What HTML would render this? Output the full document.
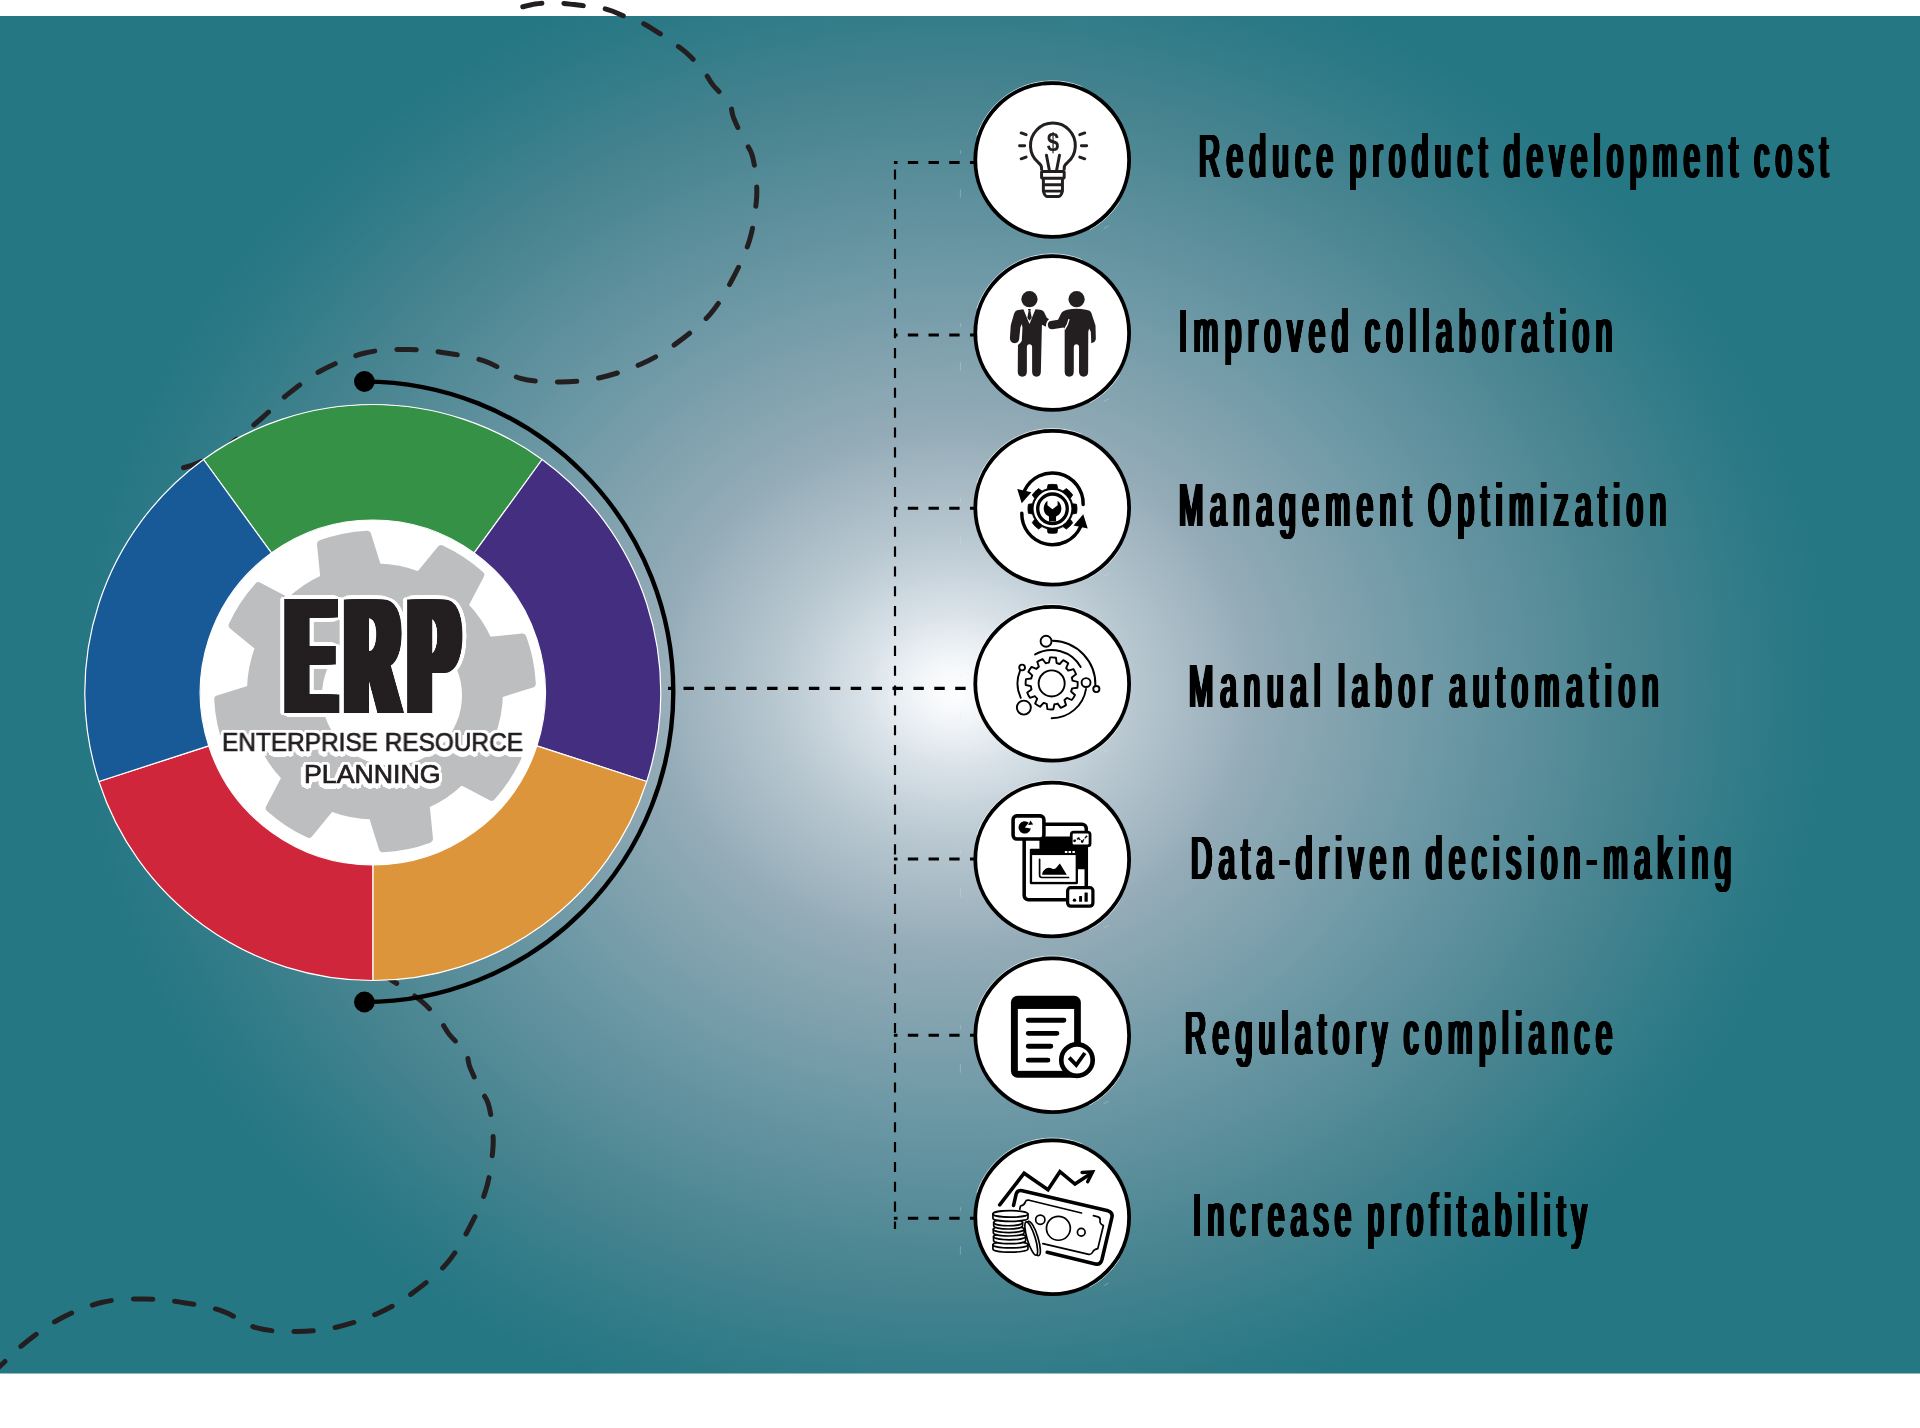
<!DOCTYPE html>
<html lang="en"><head><meta charset="utf-8"><title>ERP - Enterprise Resource Planning</title>
<style>
html,body{margin:0;padding:0;background:#fff}
#stage{position:relative;width:1920px;height:1428px;overflow:hidden;background:#fff}
#stage svg{position:absolute;left:0;top:0;will-change:transform}

.t{position:absolute;will-change:transform;white-space:nowrap;transform-origin:0 0;line-height:1;margin:0;color:#000;font-family:"Liberation Sans",sans-serif;font-weight:bold}
.lb{font-size:62px;font-weight:normal;text-shadow:0.90px 0 0 #000,-0.90px 0 0 #000,1.81px 0 0 #000,-1.81px 0 0 #000,2.71px 0 0 #000,-2.71px 0 0 #000,3.62px 0 0 #000,-3.62px 0 0 #000}
#erp{color:#231f20;text-shadow:5.93px 0 0 #231f20,-5.93px 0 0 #231f20,11.69px 0 0 #231f20,-11.69px 0 0 #231f20,17.44px 0 0 #231f20,-17.44px 0 0 #231f20,26.74px 0.00px 0 #fff,26.07px 0.89px 0 #fff,24.10px 1.74px 0 #fff,20.91px 2.49px 0 #fff,16.67px 3.13px 0 #fff,11.60px 3.60px 0 #fff,5.95px 3.90px 0 #fff,0.00px 4.00px 0 #fff,-5.95px 3.90px 0 #fff,-11.60px 3.60px 0 #fff,-16.67px 3.13px 0 #fff,-20.91px 2.49px 0 #fff,-24.10px 1.74px 0 #fff,-26.07px 0.89px 0 #fff,-26.74px 0.00px 0 #fff,-26.07px -0.89px 0 #fff,-24.10px -1.74px 0 #fff,-20.91px -2.49px 0 #fff,-16.67px -3.13px 0 #fff,-11.60px -3.60px 0 #fff,-5.95px -3.90px 0 #fff,-0.00px -4.00px 0 #fff,5.95px -3.90px 0 #fff,11.60px -3.60px 0 #fff,16.67px -3.13px 0 #fff,20.91px -2.49px 0 #fff,24.10px -1.74px 0 #fff,26.07px -0.89px 0 #fff,13.37px 0.00px 0 #fff,11.58px 2.00px 0 #fff,6.69px 3.46px 0 #fff,0.00px 4.00px 0 #fff,-6.69px 3.46px 0 #fff,-11.58px 2.00px 0 #fff,-13.37px 0.00px 0 #fff,-11.58px -2.00px 0 #fff,-6.69px -3.46px 0 #fff,-0.00px -4.00px 0 #fff,6.69px -3.46px 0 #fff,11.58px -2.00px 0 #fff,26.74px 0.00px 0 #fff,23.16px 1.00px 0 #fff,13.37px 1.73px 0 #fff,0.00px 2.00px 0 #fff,-13.37px 1.73px 0 #fff,-23.16px 1.00px 0 #fff,-26.74px 0.00px 0 #fff,-23.16px -1.00px 0 #fff,-13.37px -1.73px 0 #fff,-0.00px -2.00px 0 #fff,13.37px -1.73px 0 #fff,23.16px -1.00px 0 #fff}
.sub{color:#231f20;font-weight:normal;-webkit-text-stroke:0.7px #231f20;text-shadow:3.20px 0.00px 0 #fff,3.04px 0.99px 0 #fff,2.59px 1.88px 0 #fff,1.88px 2.59px 0 #fff,0.99px 3.04px 0 #fff,0.00px 3.20px 0 #fff,-0.99px 3.04px 0 #fff,-1.88px 2.59px 0 #fff,-2.59px 1.88px 0 #fff,-3.04px 0.99px 0 #fff,-3.20px 0.00px 0 #fff,-3.04px -0.99px 0 #fff,-2.59px -1.88px 0 #fff,-1.88px -2.59px 0 #fff,-0.99px -3.04px 0 #fff,-0.00px -3.20px 0 #fff,0.99px -3.04px 0 #fff,1.88px -2.59px 0 #fff,2.59px -1.88px 0 #fff,3.04px -0.99px 0 #fff,1.60px 0.00px 0 #fff,1.29px 0.94px 0 #fff,0.49px 1.52px 0 #fff,-0.49px 1.52px 0 #fff,-1.29px 0.94px 0 #fff,-1.60px 0.00px 0 #fff,-1.29px -0.94px 0 #fff,-0.49px -1.52px 0 #fff,0.49px -1.52px 0 #fff,1.29px -0.94px 0 #fff,-2px 5px 0 #fff,-4px 4px 0 #fff,0px 5.5px 0 #fff,-5px 2px 0 #fff,2px 5px 0 #fff}

</style></head>
<body><div id="stage">
<svg width="1920" height="1428" viewBox="0 0 1920 1428">
<defs><radialGradient id="bgg" gradientUnits="userSpaceOnUse" cx="955" cy="690" r="870" gradientTransform="translate(955 690) scale(1 0.865) translate(-955 -690)"><stop offset="0" stop-color="#ffffff"/><stop offset="0.04" stop-color="#f3f6f9"/><stop offset="0.11" stop-color="#d7e0e7"/><stop offset="0.2" stop-color="#b9c8d1"/><stop offset="0.35" stop-color="#93abb7"/><stop offset="0.55" stop-color="#6f99a6"/><stop offset="0.8" stop-color="#45838f"/><stop offset="0.92" stop-color="#307b88"/><stop offset="1" stop-color="#267784"/></radialGradient></defs>
<rect x="0" y="16" width="1920" height="1357.5" fill="url(#bgg)"/>
<path d="M522.8 6.8 C524.8 6.3 530.8 4.7 535.0 4.0 C539.2 3.3 543.7 2.9 548.0 2.8 C552.3 2.7 556.7 2.9 561.0 3.2 C565.3 3.5 569.5 4.1 574.0 4.6 C578.5 5.1 583.4 5.6 588.0 6.2 C592.6 6.8 597.5 7.2 601.5 8.0 C605.5 8.8 608.5 9.7 612.0 11.0 C615.5 12.3 619.3 14.2 622.8 15.6 C626.3 17.0 629.5 18.2 633.0 19.6 C636.5 21.0 640.4 22.1 644.1 24.0 C647.9 25.9 651.7 28.4 655.5 30.8 C659.3 33.2 661.9 34.9 666.9 38.5 C671.9 42.1 679.6 47.0 685.6 52.2 C691.6 57.4 698.4 64.4 702.9 69.9 C707.4 75.4 708.5 79.5 712.9 85.0 C717.3 90.5 725.7 97.2 729.1 102.6 C732.5 108.0 731.1 111.5 733.5 117.6 C735.9 123.7 740.4 132.9 743.4 139.0 C746.4 145.1 749.7 147.7 751.8 154.1 C753.9 160.5 755.1 169.3 755.9 177.2 C756.6 185.1 757.4 191.2 756.3 201.7 C755.2 212.2 753.5 227.4 749.5 240.3 C745.5 253.2 739.1 266.7 732.5 279.0 C725.9 291.3 719.7 303.3 710.0 314.3 C700.3 325.3 685.8 336.6 674.3 344.9 C662.8 353.2 653.1 358.7 640.7 364.2 C628.3 369.7 613.5 374.7 600.0 377.7 C586.5 380.7 573.2 381.9 560.0 382.0 C546.8 382.1 532.8 381.8 520.5 378.4 C508.2 375.0 498.2 365.8 486.0 361.6 C473.8 357.4 460.3 355.2 447.5 353.2 C434.7 351.2 422.6 349.6 409.0 349.5 C395.4 349.4 380.4 349.4 366.0 352.8 C351.6 356.2 335.8 362.8 322.3 370.0 C308.9 377.2 295.4 388.2 285.3 396.2 C275.2 404.2 272.1 409.4 262.0 418.0 C251.9 426.6 235.7 440.5 225.0 448.0 C214.3 455.5 205.8 459.5 198.0 463.0 C190.2 466.5 181.8 468.0 178.5 469.0" fill="none" stroke="#231f20" stroke-width="5" stroke-linecap="round" stroke-dasharray="19.5 22"/>
<path d="M284.4 952.3 C286.6 952.4 293.1 952.4 297.4 952.7 C301.7 953.0 305.9 953.6 310.4 954.1 C314.9 954.6 319.8 955.1 324.4 955.7 C329.0 956.3 333.9 956.7 337.9 957.5 C341.9 958.3 344.8 959.2 348.4 960.5 C351.9 961.8 355.7 963.7 359.2 965.1 C362.7 966.5 365.8 967.7 369.4 969.1 C372.9 970.5 376.8 971.6 380.5 973.5 C384.2 975.4 388.1 977.9 391.9 980.3 C395.7 982.7 398.3 984.4 403.3 988.0 C408.3 991.6 416.0 996.5 422.0 1001.7 C428.0 1006.9 434.7 1013.9 439.3 1019.4 C443.8 1024.9 444.9 1029.0 449.3 1034.5 C453.7 1040.0 462.1 1046.7 465.5 1052.1 C468.9 1057.5 467.5 1061.0 469.9 1067.1 C472.3 1073.2 476.7 1082.4 479.8 1088.5 C482.8 1094.6 486.1 1097.2 488.2 1103.6 C490.3 1110.0 491.5 1118.8 492.3 1126.7 C493.0 1134.6 493.8 1140.7 492.7 1151.2 C491.6 1161.7 489.9 1176.9 485.9 1189.8 C481.9 1202.7 475.5 1216.2 468.9 1228.5 C462.3 1240.8 456.1 1252.8 446.4 1263.8 C436.7 1274.8 422.2 1286.1 410.7 1294.4 C399.1 1302.7 389.5 1308.2 377.1 1313.7 C364.7 1319.2 349.8 1324.2 336.4 1327.2 C322.9 1330.2 309.6 1331.4 296.4 1331.5 C283.1 1331.6 269.2 1331.3 256.9 1327.9 C244.6 1324.5 234.6 1315.3 222.4 1311.1 C210.2 1306.9 196.7 1304.7 183.9 1302.7 C171.1 1300.7 159.0 1299.1 145.4 1299.0 C131.8 1298.9 116.8 1298.9 102.4 1302.3 C87.9 1305.7 72.1 1312.3 58.7 1319.5 C45.2 1326.7 31.7 1337.7 21.7 1345.7 C11.6 1353.7 8.4 1358.9 -1.6 1367.5 C-11.7 1376.1 -27.9 1390.0 -38.6 1397.5 C-49.3 1405.0 -57.9 1409.0 -65.6 1412.5 C-73.4 1416.0 -81.9 1417.5 -85.1 1418.5" fill="none" stroke="#231f20" stroke-width="5" stroke-linecap="round" stroke-dasharray="19.5 22" stroke-dashoffset="25.7"/>
<path d="M364.5 381.6 A308.8 310.2 0 0 1 364.5 1002" fill="none" stroke="#000" stroke-width="4.4"/>
<circle cx="364.4" cy="381.5" r="10.4" fill="#000"/><circle cx="364.4" cy="1002" r="10.4" fill="#000"/>
<path d="M895 162.4 V1229" stroke="#000" stroke-width="2.2" stroke-dasharray="10.1 9.75" stroke-dashoffset="-7" fill="none"/>
<path d="M893.9 162.4 H975" stroke="#000" stroke-width="3" stroke-dasharray="10.35 10.35" stroke-dashoffset="6.75" fill="none"/>
<path d="M893.9 335.0 H975" stroke="#000" stroke-width="3" stroke-dasharray="10.35 10.35" stroke-dashoffset="6.75" fill="none"/>
<path d="M893.9 508.3 H975" stroke="#000" stroke-width="3" stroke-dasharray="10.35 10.35" stroke-dashoffset="6.75" fill="none"/>
<path d="M893.9 859.0 H975" stroke="#000" stroke-width="3" stroke-dasharray="10.35 10.35" stroke-dashoffset="6.75" fill="none"/>
<path d="M893.9 1035.2 H975" stroke="#000" stroke-width="3" stroke-dasharray="10.35 10.35" stroke-dashoffset="6.75" fill="none"/>
<path d="M893.9 1218.2 H975" stroke="#000" stroke-width="3" stroke-dasharray="10.35 10.35" stroke-dashoffset="6.75" fill="none"/>
<path d="M668 688.4 H975" stroke="#000" stroke-width="3.3" stroke-dasharray="10.45 10.45" stroke-dashoffset="5.4" fill="none"/>
<circle cx="372.8" cy="692.5" r="288" fill="#fff"/>
<path d="M203.52 459.50 A288 288 0 0 1 542.08 459.50 L474.19 552.94 A172.5 172.5 0 0 0 271.41 552.94 Z" fill="#349146" stroke="#fff" stroke-width="1.2" stroke-linejoin="round"/>
<path d="M542.08 459.50 A288 288 0 0 1 646.70 781.50 L536.86 745.81 A172.5 172.5 0 0 0 474.19 552.94 Z" fill="#432e80" stroke="#fff" stroke-width="1.2" stroke-linejoin="round"/>
<path d="M646.70 781.50 A288 288 0 0 1 372.80 980.50 L372.80 865.00 A172.5 172.5 0 0 0 536.86 745.81 Z" fill="#dc953a" stroke="#fff" stroke-width="1.2" stroke-linejoin="round"/>
<path d="M372.80 980.50 A288 288 0 0 1 98.90 781.50 L208.74 745.81 A172.5 172.5 0 0 0 372.80 865.00 Z" fill="#d0263c" stroke="#fff" stroke-width="1.2" stroke-linejoin="round"/>
<path d="M98.90 781.50 A288 288 0 0 1 203.52 459.50 L271.41 552.94 A172.5 172.5 0 0 0 208.74 745.81 Z" fill="#175a97" stroke="#fff" stroke-width="1.2" stroke-linejoin="round"/>
<path d="M324.4 578.3 L321.0 544.1 A157 157 0 0 1 367.1 534.7 L377.4 567.5 A124 124 0 0 1 419.2 575.7 L441.1 549.1 A157 157 0 0 1 480.3 575.0 L464.3 605.5 A124 124 0 0 1 488.2 640.9 L522.4 637.5 A157 157 0 0 1 531.8 683.6 L499.0 693.9 A124 124 0 0 1 490.8 735.7 L517.4 757.6 A157 157 0 0 1 491.5 796.8 L461.0 780.8 A124 124 0 0 1 425.6 804.7 L429.0 838.9 A157 157 0 0 1 382.9 848.3 L372.6 815.5 A124 124 0 0 1 330.8 807.3 L308.9 833.9 A157 157 0 0 1 269.7 808.0 L285.7 777.5 A124 124 0 0 1 261.8 742.1 L227.6 745.5 A157 157 0 0 1 218.2 699.4 L251.0 689.1 A124 124 0 0 1 259.2 647.3 L232.6 625.4 A157 157 0 0 1 258.5 586.2 L289.0 602.2 A124 124 0 0 1 324.4 578.3Z" fill="#bdbec0" stroke="#bdbec0" stroke-width="8" stroke-linejoin="round"/><circle cx="392.0" cy="695.5" r="70" fill="#fff"/>
<path d="M976.9 135.5 A79.2 79.2 0 0 1 1081.9 86.6 M1119.4 202.0 A79.2 79.2 0 0 1 1089.4 229.9" fill="none" stroke="#fff" stroke-width="0.9" opacity="0.75"/>
<path d="M960.4 150.0 v4 M960.4 189.0 v8.5 M1103.7 228.5 l5 -2.6" fill="none" stroke="#dfe9ee" stroke-width="0.9" opacity="0.35"/>
<circle cx="1052.2" cy="160.0" r="76.90" fill="#fff" stroke="#000" stroke-width="3.8"/>
<path d="M976.9 308.5 A79.2 79.2 0 0 1 1081.9 259.6 M1119.4 375.0 A79.2 79.2 0 0 1 1089.4 402.9" fill="none" stroke="#fff" stroke-width="0.9" opacity="0.75"/>
<path d="M960.4 323.0 v4 M960.4 362.0 v8.5 M1103.7 401.5 l5 -2.6" fill="none" stroke="#dfe9ee" stroke-width="0.9" opacity="0.35"/>
<circle cx="1052.2" cy="333.0" r="76.90" fill="#fff" stroke="#000" stroke-width="3.8"/>
<path d="M976.9 483.2 A79.2 79.2 0 0 1 1081.9 434.3 M1119.4 549.7 A79.2 79.2 0 0 1 1089.4 577.6" fill="none" stroke="#fff" stroke-width="0.9" opacity="0.75"/>
<path d="M960.4 497.7 v4 M960.4 536.7 v8.5 M1103.7 576.2 l5 -2.6" fill="none" stroke="#dfe9ee" stroke-width="0.9" opacity="0.35"/>
<circle cx="1052.2" cy="507.7" r="76.90" fill="#fff" stroke="#000" stroke-width="3.8"/>
<path d="M976.9 659.2 A79.2 79.2 0 0 1 1081.9 610.3 M1119.4 725.7 A79.2 79.2 0 0 1 1089.4 753.6" fill="none" stroke="#fff" stroke-width="0.9" opacity="0.75"/>
<path d="M960.4 673.7 v4 M960.4 712.7 v8.5 M1103.7 752.2 l5 -2.6" fill="none" stroke="#dfe9ee" stroke-width="0.9" opacity="0.35"/>
<circle cx="1052.2" cy="683.7" r="76.90" fill="#fff" stroke="#000" stroke-width="3.8"/>
<path d="M976.9 835.0 A79.2 79.2 0 0 1 1081.9 786.1 M1119.4 901.5 A79.2 79.2 0 0 1 1089.4 929.4" fill="none" stroke="#fff" stroke-width="0.9" opacity="0.75"/>
<path d="M960.4 849.5 v4 M960.4 888.5 v8.5 M1103.7 928.0 l5 -2.6" fill="none" stroke="#dfe9ee" stroke-width="0.9" opacity="0.35"/>
<circle cx="1052.2" cy="859.5" r="76.90" fill="#fff" stroke="#000" stroke-width="3.8"/>
<path d="M976.9 1010.7 A79.2 79.2 0 0 1 1081.9 961.8 M1119.4 1077.2 A79.2 79.2 0 0 1 1089.4 1105.1" fill="none" stroke="#fff" stroke-width="0.9" opacity="0.75"/>
<path d="M960.4 1025.2 v4 M960.4 1064.2 v8.5 M1103.7 1103.7 l5 -2.6" fill="none" stroke="#dfe9ee" stroke-width="0.9" opacity="0.35"/>
<circle cx="1052.2" cy="1035.2" r="76.90" fill="#fff" stroke="#000" stroke-width="3.8"/>
<path d="M976.9 1192.7 A79.2 79.2 0 0 1 1081.9 1143.8 M1119.4 1259.2 A79.2 79.2 0 0 1 1089.4 1287.1" fill="none" stroke="#fff" stroke-width="0.9" opacity="0.75"/>
<path d="M960.4 1207.2 v4 M960.4 1246.2 v8.5 M1103.7 1285.7 l5 -2.6" fill="none" stroke="#dfe9ee" stroke-width="0.9" opacity="0.35"/>
<circle cx="1052.2" cy="1217.2" r="76.90" fill="#fff" stroke="#000" stroke-width="3.8"/>
<g transform="translate(1006 112) scale(0.06443)"><path d="M552 905 V868 Q552 822 500 783 A348 348 0 1 1 956 783 Q903 822 903 868 V905" fill="none" stroke="#231f20" stroke-width="46" stroke-linejoin="round"/><rect x="552" y="922" width="351" height="105" rx="10" fill="#fff" stroke="#231f20" stroke-width="46" stroke-linejoin="round"/><path d="M580 1030 V1228 Q600 1310 640 1312 H815 Q856 1310 876 1228 V1030 M580 1128 H876 M580 1228 H876" fill="none" stroke="#231f20" stroke-width="46" stroke-linejoin="round"/><path d="M628 672 L672 900 M830 672 L786 900" fill="none" stroke="#231f20" stroke-width="46" stroke-linecap="round"/><path d="M235 325 L312 352 M210 525 H290 M235 727 L312 700 M1145 352 L1222 325 M1170 525 H1252 M1145 700 L1222 727" fill="none" stroke="#231f20" stroke-width="46" stroke-linecap="round"/><text transform="translate(730 611) scale(0.86 1)" x="0" y="0" font-family="Liberation Sans, sans-serif" font-weight="bold" font-size="405" text-anchor="middle" fill="#231f20">$</text></g>
<g transform="translate(1002 282.7) scale(0.07003)"><circle cx="392" cy="235" r="116" fill="#231f20"/><circle cx="1065" cy="235" r="116" fill="#231f20"/><path d="M305 378 L215 393 Q185 402 172 445 L125 608 L113 795 Q115 862 180 864 Q240 860 246 800 L262 640 L283 590 L292 640 L283 830 Q262 872 228 888 L225 1275 Q228 1340 290 1342 Q352 1340 355 1275 L355 920 Q358 880 392 880 Q428 880 430 920 L430 1275 Q433 1340 492 1342 Q552 1340 555 1275 L570 600 L628 628 Q625 560 672 522 L640 500 L600 420 Q585 390 545 385 L478 378 L392 588 Z" fill="#231f20"/><path d="M370 375 H412 L405 400 L425 500 L392 545 L362 500 L380 400 Z" fill="#231f20"/><path d="M930 385 Q1065 362 1200 385 Q1262 392 1275 430 L1335 610 L1340 800 Q1335 850 1275 865 L1268 700 L1245 655 L1232 700 L1230 1275 Q1228 1340 1165 1342 Q1105 1340 1100 1275 L1100 920 Q1098 880 1062 880 Q1028 880 1025 920 L1025 1275 Q1022 1340 960 1342 Q898 1340 895 1275 L895 660 L878 640 L722 665 Q665 668 655 610 Q650 558 695 548 L800 528 L850 430 Q870 395 930 385 Z" fill="#231f20"/><path d="M957 520 Q940 605 893 668" fill="none" stroke="#fff" stroke-width="19"/></g>
<g transform="translate(1008 462) scale(0.06161)"><path d="M638.1 435.7 L649.5 368.7 A398 398 0 0 1 794.5 368.7 L805.9 435.7 A335 335 0 0 1 892.0 471.4 L947.4 432.0 A398 398 0 0 1 1050.0 534.6 L1010.6 590.0 A335 335 0 0 1 1046.3 676.1 L1113.3 687.5 A398 398 0 0 1 1113.3 832.5 L1046.3 843.9 A335 335 0 0 1 1010.6 930.0 L1050.0 985.4 A398 398 0 0 1 947.4 1088.0 L892.0 1048.6 A335 335 0 0 1 805.9 1084.3 L794.5 1151.3 A398 398 0 0 1 649.5 1151.3 L638.1 1084.3 A335 335 0 0 1 552.0 1048.6 L496.6 1088.0 A398 398 0 0 1 394.0 985.4 L433.4 930.0 A335 335 0 0 1 397.7 843.9 L330.7 832.5 A398 398 0 0 1 330.7 687.5 L397.7 676.1 A335 335 0 0 1 433.4 590.0 L394.0 534.6 A398 398 0 0 1 496.6 432.0 L552.0 471.4 A335 335 0 0 1 638.1 435.7Z" fill="#000" stroke="#000" stroke-width="14" stroke-linejoin="round"/><circle cx="722" cy="760" r="307" fill="#fff"/><circle cx="722" cy="760" r="240" fill="none" stroke="#000" stroke-width="54"/><path d="M640 628 Q575 680 580 765 Q590 850 665 885 V965 H780 V885 Q858 850 866 765 Q870 680 805 628 V700 L722 768 L640 700 Z" fill="#000"/><path d="M1219.9 690.2 A500 500 0 0 0 266.8 466.7" fill="none" stroke="#000" stroke-width="56" stroke-linecap="round"/><path d="M150 440 L380 490 L222 670 Z" fill="#000"/><path d="M224.1 829.8 A500 500 0 0 0 1177.2 1053.3" fill="none" stroke="#000" stroke-width="56" stroke-linecap="round"/><path d="M1294 1080 L1064 1030 L1222 850 Z" fill="#000"/></g>
<g transform="translate(1006 626) scale(0.07003)"><path d="M612.8 522.6 L629.3 448.7 A372 372 0 0 1 713.4 453.1 L722.0 528.3 A300 300 0 0 1 766.8 542.8 L818.0 487.1 A372 372 0 0 1 888.6 533.0 L858.5 602.4 A300 300 0 0 1 890.0 637.4 L962.2 614.7 A372 372 0 0 1 1000.4 689.7 L939.6 734.8 A300 300 0 0 1 949.4 780.8 L1023.3 797.3 A372 372 0 0 1 1018.9 881.4 L943.7 890.0 A300 300 0 0 1 929.2 934.8 L984.9 986.0 A372 372 0 0 1 939.0 1056.6 L869.6 1026.5 A300 300 0 0 1 834.6 1058.0 L857.3 1130.2 A372 372 0 0 1 782.3 1168.4 L737.2 1107.6 A300 300 0 0 1 691.2 1117.4 L674.7 1191.3 A372 372 0 0 1 590.6 1186.9 L582.0 1111.7 A300 300 0 0 1 537.2 1097.2 L486.0 1152.9 A372 372 0 0 1 415.4 1107.0 L445.5 1037.6 A300 300 0 0 1 414.0 1002.6 L341.8 1025.3 A372 372 0 0 1 303.6 950.3 L364.4 905.2 A300 300 0 0 1 354.6 859.2 L280.7 842.7 A372 372 0 0 1 285.1 758.6 L360.3 750.0 A300 300 0 0 1 374.8 705.2 L319.1 654.0 A372 372 0 0 1 365.0 583.4 L434.4 613.5 A300 300 0 0 1 469.4 582.0 L446.7 509.8 A372 372 0 0 1 521.7 471.6 L566.8 532.4 A300 300 0 0 1 612.8 522.6Z" fill="none" stroke="#000" stroke-width="27" stroke-linecap="round" stroke-linejoin="round"/><circle cx="652" cy="820" r="186" fill="none" stroke="#000" stroke-width="27" stroke-linecap="round" stroke-linejoin="round"/><path d="M668.4 210.2 A625 625 0 0 1 1276.6 856.8" fill="none" stroke="#000" stroke-width="27" stroke-linecap="round" stroke-linejoin="round"/><path d="M415.7 405.7 A477 477 0 0 1 1066.7 584.4" fill="none" stroke="#000" stroke-width="27" stroke-linecap="round" stroke-linejoin="round"/><path d="M1142.9 897.7 A497 497 0 0 1 652.0 1317.0" fill="none" stroke="#000" stroke-width="27" stroke-linecap="round" stroke-linejoin="round"/><path d="M210.6 1025.8 A487 487 0 0 1 203.7 629.7" fill="none" stroke="#000" stroke-width="27" stroke-linecap="round" stroke-linejoin="round"/><circle cx="572" cy="218" r="78" fill="#fff" stroke="#000" stroke-width="27" stroke-linecap="round" stroke-linejoin="round"/><circle cx="1290" cy="900" r="44" fill="#fff" stroke="#000" stroke-width="27" stroke-linecap="round" stroke-linejoin="round"/><circle cx="1143" cy="808" r="64" fill="#fff" stroke="#000" stroke-width="27" stroke-linecap="round" stroke-linejoin="round"/><circle cx="230" cy="592" r="41" fill="#fff" stroke="#000" stroke-width="27" stroke-linecap="round" stroke-linejoin="round"/><circle cx="255" cy="1165" r="100" fill="#fff" stroke="#000" stroke-width="27" stroke-linecap="round" stroke-linejoin="round"/></g>
<g transform="translate(1004 806) scale(0.07704)"><rect x="262" y="236" width="806" height="980" rx="55" fill="#fff" stroke="#000" stroke-width="46"/><path d="M460 395 H1068 V820 H935 V560 H460 Z" fill="#000"/><rect x="335" y="555" width="625" height="460" rx="14" fill="#000"/><rect x="365" y="637" width="565" height="348" fill="#fff"/><rect x="790" y="584" width="32" height="26" fill="#fff"/><rect x="838" y="584" width="32" height="26" fill="#fff"/><rect x="888" y="584" width="32" height="26" fill="#fff"/><path d="M462 692 V900 Q462 928 492 928 H838" fill="none" stroke="#000" stroke-width="22" stroke-linecap="round"/><path d="M495 893 Q495 850 540 815 Q580 792 620 810 Q650 828 672 808 L725 745 L815 893 Z" fill="#000"/><rect x="118" y="128" width="400" height="300" rx="48" fill="#fff" stroke="#000" stroke-width="46"/><path d="M270 280 L322 218 A80 80 0 1 0 348 292 Z" fill="#000"/><path d="M345 188 L378 240 L312 248 Z" fill="#000"/><rect x="873" y="338" width="244" height="180" rx="32" fill="#fff" stroke="#000" stroke-width="36"/><path d="M915 452 L968 418 L1015 462 L1072 392" fill="none" stroke="#000" stroke-width="16" stroke-dasharray="22 14"/><circle cx="915" cy="452" r="17"/><circle cx="968" cy="420" r="15"/><circle cx="1015" cy="462" r="17"/><circle cx="1070" cy="395" r="13"/><rect x="826" y="1060" width="328" height="240" rx="40" fill="#fff" stroke="#000" stroke-width="42"/><circle cx="915" cy="1222" r="22"/><rect x="975" y="1168" width="38" height="76" rx="8"/><rect x="1045" y="1122" width="42" height="122" rx="8"/></g>
<g transform="translate(1000 986) scale(0.07283)"><rect x="150" y="135" width="960" height="1125" rx="92" fill="#000"/><rect x="245" y="315" width="773" height="850" fill="#fff"/><path d="M388 470 H878 M388 650 H782 M388 827 H698 M388 1018 H658" fill="none" stroke="#000" stroke-width="66" stroke-linecap="round"/><circle cx="1057" cy="1017" r="216" fill="#fff" stroke="#000" stroke-width="64"/><path d="M950 983 L1047 1085 L1165 920" fill="none" stroke="#000" stroke-width="52"/></g>
<g transform="translate(986 1160) scale(0.07701)"><path d="M178 582 L495 172 L805 385 L960 152 L1155 312 L1368 172" fill="none" stroke="#000" stroke-width="46" stroke-linecap="round" stroke-linejoin="miter"/><path d="M1248 162 L1384 154 L1320 282" fill="none" stroke="#000" stroke-width="44" stroke-linecap="round" stroke-linejoin="miter"/><path d="M358 590 L392 440 Q410 385 470 398 L1585 660 Q1650 680 1635 745 L1505 1295 Q1485 1365 1420 1350 L795 1198" fill="none" stroke="#000" stroke-width="46" stroke-linecap="round" stroke-linejoin="round"/><path d="M438 640 L448 598 Q500 585 510 545 Q520 515 560 522 L1240 688" fill="none" stroke="#000" stroke-width="22" stroke-linecap="round" stroke-linejoin="round"/><path d="M1395 722 L1455 738 Q1490 750 1480 790 Q1478 830 1525 850 L1452 1150 Q1400 1160 1385 1195 Q1370 1232 1335 1225 L738 1085" fill="none" stroke="#000" stroke-width="22" stroke-linecap="round" stroke-linejoin="round"/><circle cx="705" cy="775" r="60" fill="none" stroke="#000" stroke-width="22" stroke-linecap="round" stroke-linejoin="round"/><circle cx="940" cy="887" r="155" fill="none" stroke="#000" stroke-width="22" stroke-linecap="round" stroke-linejoin="round"/><circle cx="1237" cy="938" r="50" fill="none" stroke="#000" stroke-width="22" stroke-linecap="round" stroke-linejoin="round"/><path d="M90 1100 V1155 A227.5 42 0 0 0 545 1155 V1100" fill="#fff" stroke="#000" stroke-width="22" stroke-linecap="round" stroke-linejoin="round"/><ellipse cx="317.5" cy="1100" rx="227.5" ry="42" fill="#fff" stroke="#000" stroke-width="22" stroke-linecap="round" stroke-linejoin="round"/><path d="M98 995 V1045 A208.5 42 0 0 0 515 1045 V995" fill="#fff" stroke="#000" stroke-width="22" stroke-linecap="round" stroke-linejoin="round"/><ellipse cx="306.5" cy="995" rx="208.5" ry="42" fill="#fff" stroke="#000" stroke-width="22" stroke-linecap="round" stroke-linejoin="round"/><path d="M95 900 V945 A200 42 0 0 0 495 945 V900" fill="#fff" stroke="#000" stroke-width="22" stroke-linecap="round" stroke-linejoin="round"/><ellipse cx="295" cy="900" rx="200" ry="42" fill="#fff" stroke="#000" stroke-width="22" stroke-linecap="round" stroke-linejoin="round"/><path d="M100 812 V854 A187.5 42 0 0 0 475 854 V812" fill="#fff" stroke="#000" stroke-width="22" stroke-linecap="round" stroke-linejoin="round"/><ellipse cx="287.5" cy="812" rx="187.5" ry="42" fill="#fff" stroke="#000" stroke-width="22" stroke-linecap="round" stroke-linejoin="round"/><path d="M90 700 V755 A227.5 42 0 0 0 545 755 V700" fill="#fff" stroke="#000" stroke-width="22" stroke-linecap="round" stroke-linejoin="round"/><ellipse cx="317.5" cy="700" rx="227.5" ry="42" fill="#fff" stroke="#000" stroke-width="22" stroke-linecap="round" stroke-linejoin="round"/><g transform="rotate(-17 600 1020)"><ellipse cx="618" cy="1024" rx="58" ry="232" fill="#fff" stroke="#000" stroke-width="22" stroke-linecap="round" stroke-linejoin="round"/><ellipse cx="588" cy="1016" rx="52" ry="226" fill="#fff" stroke="#000" stroke-width="22" stroke-linecap="round" stroke-linejoin="round"/></g></g>
</svg>
<div class="t lb" style="left:1199.10px;top:125.11px;letter-spacing:14.247px;word-spacing:-10.0px;transform:scale(0.4700,1)">Reduce product development cost</div>
<div class="t lb" style="left:1179.10px;top:299.51px;letter-spacing:14.478px;word-spacing:-10.0px;transform:scale(0.4700,1)">Improved collaboration</div>
<div class="t lb" style="left:1179.10px;top:473.81px;letter-spacing:14.658px;word-spacing:-10.0px;transform:scale(0.4700,1)">Management Optimization</div>
<div class="t lb" style="left:1188.90px;top:654.71px;letter-spacing:15.286px;word-spacing:-10.0px;transform:scale(0.4700,1)">Manual labor automation</div>
<div class="t lb" style="left:1190.90px;top:826.71px;letter-spacing:14.355px;word-spacing:-10.0px;transform:scale(0.4700,1)">Data-driven decision-making</div>
<div class="t lb" style="left:1184.90px;top:1002.01px;letter-spacing:14.414px;word-spacing:-10.0px;transform:scale(0.4700,1)">Regulatory compliance</div>
<div class="t lb" style="left:1192.70px;top:1184.11px;letter-spacing:14.079px;word-spacing:-10.0px;transform:scale(0.4700,1)">Increase profitability</div>
<div class="t" id="erp" style="left:286.60px;top:572.88px;font-size:166px;letter-spacing:27.50px;transform:scale(0.4300,1)">ERP</div>
<div class="t sub" style="left:222.20px;top:729.60px;font-size:25px;transform:scale(0.9760,1)">ENTERPRISE RESOURCE</div>
<div class="t sub" style="left:304.30px;top:761.80px;font-size:25px;transform:scale(1.0680,1)">PLANNING</div>
</div></body></html>
